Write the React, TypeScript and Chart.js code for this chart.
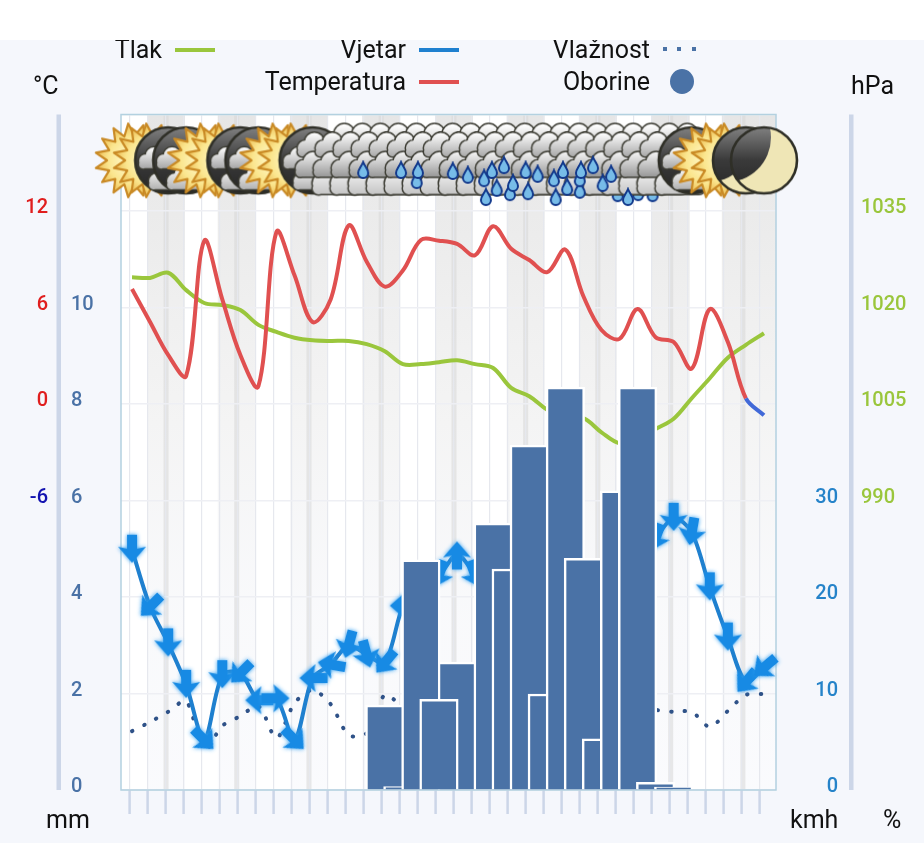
import React, { useEffect, useRef } from 'react';
import { Chart, registerables } from 'chart.js';

Chart.register(...registerables);

// forecast steps, in hours from the first point
const hours = [0, 3, 6, 9, 12, 15, 18, 21, 24, 27, 30, 33, 36, 39, 42, 45, 48, 51, 54, 57, 60, 63, 66, 69, 72, 75, 78, 81, 84, 87, 90, 93, 96, 99, 102, 105];

const temperature = [7.15, 5.1, 3.05, 1.75, 10.15, 6.5, 3.05, 1.1, 10.7, 8, 5.1, 6.5, 11.1, 8.85, 7.3, 8.3, 10.2, 10.15, 9.95, 9.25, 11.05, 9.65, 8.95, 8.2, 9.6, 6.7, 4.6, 4.05, 5.9, 4.15, 3.85, 2.2, 5.9, 3.85, 0.35, -0.7];
const pressure = [1024.7, 1024.6, 1025.4, 1022.7, 1020.7, 1020.4, 1019.6, 1017.3, 1016.2, 1015.3, 1014.9, 1014.8, 1014.8, 1014.3, 1013.2, 1011.2, 1011.2, 1011.5, 1011.8, 1011.2, 1010.6, 1007.5, 1006.2, 1004.1, 1002.8, 1002.8, 1000.6, 998.9, 999.4, 1001.1, 1002.7, 1005.9, 1009, 1012.2, 1014.2, 1016];
const wind = [24.9, 19, 15.2, 10.9, 5.2, 11.9, 12.1, 9.3, 9.5, 5.2, 11.6, 13, 15, 14, 13.2, 19.1, 22, 22.3, 24.4, 22.3, 20, 19, 18, 19, 20, 21, 22, 23, 24, 26.1, 28.2, 26.7, 21, 15.8, 11.2, 12.7];
const windDirection = [0, 45, 0, 0, -45, 0, 45, 90, -90, -45, 90, 100, 15, -15, 40, 90, 90, 20, 180, -20, 0, 0, 0, 0, 0, 0, 0, 0, 20, 20, 0, 10, 0, 0, 40, 50];
const humidity = [72.2, 74.1, 76.2, 78.4, 68.3, 73.3, 75.3, 77.4, 70.8, 78, 80.7, 77.8, 71.4, 71.8, 79.7, 77.6, 79, 79, 78, 78, 77, 77, 76, 76, 77, 77, 77, 77, 77, 76.6, 76.2, 76.2, 73.1, 76.4, 79.7, 79.9];
const precipitation = [0, 0, 0, 0, 0, 0, 0, 0, 0, 0, 0, 0, 0, 0, 1.76, 0.07, 4.77, 1.88, 0, 0, 5.53, 4.58, 7.15, 1.99, 8.35, 4.8, 1.06, 6.2, 8.35, 0.16, 0.06, 0, 0, 0, 0, 0];
// the one column that sits behind its neighbour
const precipitationBackHours = [54];
const precipitationBack = [2.65];

const weather = ['sun', 'sun', 'mooncloud', 'mooncloud', 'sun', 'sun', 'mooncloud', 'mooncloud', 'sun', 'sun', 'mooncloud', 'cloud', 'cloud', 'cloud', 'cloud', 'cloud', 'cloud', 'cloud', 'cloud', 'cloud', 'cloud', 'cloud', 'cloud', 'cloud', 'cloud', 'cloud', 'cloud', 'cloud', 'cloud', 'cloud', 'cloud', 'mooncloud', 'sun', 'sun', 'moon', 'moon'];
const weatherLevel = 13.05;

const dropHours = [38.4, 44.7, 47.3, 47.5, 53.3, 55.8, 58.5, 59.8, 61.8, 60.6, 58.8, 62.8, 63.3, 65.4, 67.4, 65.8, 70.1, 71.6, 70.4, 72.3, 74.4, 74.4, 74.6, 76.6, 78.2, 79.6, 82.4];
const dropLevels = [12.85, 12.85, 12.64, 12.85, 12.83, 12.75, 12.68, 12.85, 12.95, 12.48, 12.29, 12.39, 12.58, 12.85, 12.77, 12.41, 12.68, 12.85, 12.29, 12.5, 12.44, 12.68, 12.85, 12.95, 12.58, 12.77, 12.29];
const hiddenDropHours = [80.7, 84.1, 86.5];
const hiddenDropLevels = [12.37, 12.39, 12.37];

// night bands, centre hour of each
const bandHours = [5.65, 17.4, 29.4, 41.4, 53.5, 65.4, 77.4, 89.5, 101.5];
const lastBandStart = 98;

const tempTicks = [12, 6, 0, -6];
const mmTicks = [0, 2, 4, 6, 8, 10];
const windTicks = [0, 10, 20, 30];
const pressureTicks = [990, 1005, 1020, 1035];
const humidityTicks = [80];

const RED = '#e05050';
const GREEN = '#9ac63c';
const WIND_BLUE = '#1f80cf';
const BAR_BLUE = '#4a72a6';
const AXIS_LINE = '#ccd6e8';
const tickFont = { family: 'Roboto', size: 20, weight: '500' as const };

const makeCanvas = (w: number, h: number) => {
    const c = document.createElement('canvas');
    c.width = w;
    c.height = h;
    return c;
};

const drawCloud = (ctx: CanvasRenderingContext2D, cx: number, cy: number, w: number, top: string, bottom: string) => {
    const puffs = [
        [-0.3, 0.02, 0.2],
        [-0.06, -0.13, 0.25],
        [0.24, -0.02, 0.2],
        [0.36, 0.1, 0.13],
        [-0.38, 0.12, 0.12],
    ];
    const shape = () => {
        ctx.beginPath();
        puffs.forEach(([x, y, r]) => {
            ctx.moveTo(cx + x * w + r * w, cy + y * w);
            ctx.arc(cx + x * w, cy + y * w, r * w, 0, Math.PI * 2);
        });
        ctx.rect(cx - 0.38 * w, cy + 0.02 * w, 0.76 * w, 0.21 * w);
    };
    ctx.strokeStyle = '#3d3d34';
    ctx.lineWidth = 3;
    shape();
    ctx.stroke();
    const g = ctx.createLinearGradient(0, cy - 0.35 * w, 0, cy + 0.25 * w);
    g.addColorStop(0, top);
    g.addColorStop(1, bottom);
    ctx.fillStyle = g;
    shape();
    ctx.fill();
};

const drawClouds = (ctx: CanvasRenderingContext2D, c: number) => {
    drawCloud(ctx, c + 16, c - 21, 40, '#ffffff', '#b8b8b8');
    drawCloud(ctx, c - 14, c - 13, 38, '#fbfbfb', '#a8a8a8');
    drawCloud(ctx, c + 15, c, 44, '#f6f6f6', '#9c9c9c');
    drawCloud(ctx, c - 15, c + 7, 40, '#f0f0f0', '#969696');
    drawCloud(ctx, c + 7, c + 22, 50, '#ffffff', '#c4c4c4');
};

const makeSun = () => {
    const s = makeCanvas(100, 100);
    const ctx = s.getContext('2d')!;
    ctx.beginPath();
    const spikes = 15;
    for (let i = 0; i < spikes * 2; i++) {
        const r = i % 2 === 0 ? 37 : 25;
        const a = (i * Math.PI) / spikes;
        ctx.lineTo(50 + r * Math.cos(a), 50 + r * Math.sin(a));
    }
    ctx.closePath();
    const g = ctx.createRadialGradient(50, 50, 6, 50, 50, 36);
    g.addColorStop(0, '#fff8c8');
    g.addColorStop(0.6, '#fbe68e');
    g.addColorStop(1, '#edbe55');
    ctx.fillStyle = g;
    ctx.fill();
    ctx.strokeStyle = '#c98a25';
    ctx.lineWidth = 2.2;
    ctx.lineJoin = 'round';
    ctx.stroke();
    return s;
};

const makeMoon = (clouded: boolean) => {
    const s = makeCanvas(100, 100);
    const ctx = s.getContext('2d')!;
    const r = 33;
    ctx.save();
    ctx.beginPath();
    ctx.arc(50, 50, r, 0, Math.PI * 2);
    ctx.clip();
    const dark = ctx.createLinearGradient(0, 17, 0, 83);
    dark.addColorStop(0, '#808080');
    dark.addColorStop(0.5, '#3a3a3a');
    dark.addColorStop(1, '#262626');
    if (clouded) {
        ctx.fillStyle = dark;
        ctx.fillRect(0, 0, 100, 100);
    } else {
        ctx.fillStyle = '#efe6b6';
        ctx.fillRect(0, 0, 100, 100);
        ctx.fillStyle = dark;
        ctx.beginPath();
        ctx.arc(12, 27, 45, 0, Math.PI * 2);
        ctx.fill();
    }
    ctx.restore();
    ctx.beginPath();
    ctx.arc(50, 50, r, 0, Math.PI * 2);
    ctx.strokeStyle = '#2f2f27';
    ctx.lineWidth = 2.6;
    ctx.stroke();
    if (clouded) {
        drawCloud(ctx, 38, 50, 34, '#fafafa', '#a5a5a5');
        drawCloud(ctx, 50, 70, 38, '#ffffff', '#b0b0b0');
    }
    return s;
};

const makeCloud = () => {
    const s = makeCanvas(100, 100);
    drawClouds(s.getContext('2d')!, 50);
    return s;
};

const makeDrop = () => {
    const s = makeCanvas(16, 20);
    const ctx = s.getContext('2d')!;
    ctx.beginPath();
    ctx.moveTo(8, 2);
    ctx.bezierCurveTo(10, 7, 13, 9, 13, 13);
    ctx.arc(8, 13, 5, 0, Math.PI);
    ctx.bezierCurveTo(3, 9, 6, 7, 8, 2);
    ctx.closePath();
    ctx.fillStyle = '#77bce8';
    ctx.fill();
    ctx.strokeStyle = '#12398c';
    ctx.lineWidth = 2;
    ctx.stroke();
    return s;
};

const makeArrow = () => {
    const s = makeCanvas(44, 44);
    const ctx = s.getContext('2d')!;
    ctx.translate(22, 22);
    ctx.shadowColor = '#2a9cf0';
    ctx.shadowBlur = 4;
    ctx.fillStyle = '#178ae4';
    ctx.beginPath();
    ctx.moveTo(-5, -15);
    ctx.lineTo(5, -15);
    ctx.lineTo(5, -1);
    ctx.lineTo(14, -3);
    ctx.lineTo(0, 13);
    ctx.lineTo(-14, -3);
    ctx.lineTo(-5, -1);
    ctx.closePath();
    ctx.fill();
    return s;
};

const only = (list: number[]) => (value: string | number) => (list.includes(Number(value)) ? String(value) : '');

// axis boxes are fixed, and tall labels must not push the plot in
const axisWidth = (width: number) => (axis: any) => {
    axis.width = width;
    axis.paddingTop = 0;
    axis.paddingBottom = 0;
};

const backdrop = {
    id: 'backdrop',
    beforeDraw(chart: any) {
        const { ctx, chartArea: a, scales } = chart;
        const x = scales.x;
        ctx.save();
        ctx.fillStyle = '#ffffff';
        ctx.fillRect(a.left, a.top, a.width, a.height);
        const band = ctx.createLinearGradient(0, a.top, 0, a.bottom);
        band.addColorStop(0, 'rgba(205,205,205,0.5)');
        band.addColorStop(0.45, 'rgba(215,215,215,0.28)');
        band.addColorStop(0.75, 'rgba(225,228,238,0.2)');
        band.addColorStop(1, 'rgba(235,238,248,0.25)');
        bandHours.forEach((h, i) => {
            const half = 19;
            const c = x.getPixelForValue(h);
            ctx.fillStyle = band;
            if (i === bandHours.length - 1) {
                const start = x.getPixelForValue(lastBandStart);
                ctx.fillRect(start, a.top, a.right - start, a.height);
            } else {
                ctx.fillRect(c - half, a.top, half * 2, a.height);
            }
            ctx.fillStyle = 'rgba(215,215,215,0.55)';
            ctx.fillRect(c - 2.5, a.top, 5, a.height);
        });
        // the two pale rails beside the outer axes
        ctx.fillStyle = AXIS_LINE;
        ctx.fillRect(a.left - 64.5, a.top, 4.5, a.height);
        ctx.fillRect(a.right + 73, a.top, 4.5, a.height);
        ctx.restore();
    },
    beforeDatasetsDraw(chart: any) {
        const { ctx, chartArea: a } = chart;
        ctx.save();
        ctx.strokeStyle = '#b3d1e0';
        ctx.lineWidth = 1.5;
        ctx.strokeRect(a.left, a.top, a.width, a.height);
        ctx.restore();
    },
};

const labelStyle: React.CSSProperties = {
    position: 'absolute',
    fontFamily: 'Roboto',
    fontSize: 25,
    lineHeight: '28px',
    color: '#111111',
    whiteSpace: 'nowrap',
};

const Legend: React.FC<{ text: string; right: number; y: number }> = ({ text, right, y }) => (
    <div style={{ ...labelStyle, right: 924 - right, top: y - 14 }}>{text}</div>
);

const Unit: React.FC<{ text: string; left: number; y: number }> = ({ text, left, y }) => (
    <div style={{ ...labelStyle, left, top: y - 14 }}>{text}</div>
);

const Swatch: React.FC<{ left: number; y: number; color: string }> = ({ left, y, color }) => (
    <div style={{ position: 'absolute', left, top: y - 2, width: 40, height: 4, background: color }} />
);

const App: React.FC = () => {
    const chartRef = useRef<HTMLCanvasElement>(null);

    useEffect(() => {
        if (!chartRef.current) return;

        const sun = makeSun();
        const moon = makeMoon(false);
        const moonCloud = makeMoon(true);
        const cloud = makeCloud();
        const drop = makeDrop();
        const arrow = makeArrow();
        const icons: Record<string, HTMLCanvasElement> = { sun, moon, mooncloud: moonCloud, cloud };
        const series = (values: number[]) => values.map((y, i) => ({ x: hours[i], y }));
        const pairs = (xs: number[], ys: number[]) => xs.map((x, i) => ({ x, y: ys[i] }));

        const chart = new Chart(chartRef.current, {
            type: 'bar',
            plugins: [backdrop],
            data: {
                datasets: [
                    {
                        type: 'line',
                        label: 'Kiša',
                        data: pairs(dropHours, dropLevels),
                        yAxisID: 'yMm',
                        showLine: false,
                        pointStyle: drop,
                        pointRadius: 8,
                        clip: false,
                        order: 0,
                    },
                    {
                        type: 'line',
                        label: 'Vrijeme',
                        data: hours.map((x) => ({ x, y: weatherLevel })),
                        yAxisID: 'yMm',
                        showLine: false,
                        pointStyle: (ctx: any) => icons[weather[ctx.dataIndex]],
                        pointRadius: 10,
                        clip: false,
                        order: 1,
                    },
                    {
                        type: 'line',
                        label: 'Kiša iza',
                        data: pairs(hiddenDropHours, hiddenDropLevels),
                        yAxisID: 'yMm',
                        showLine: false,
                        pointStyle: drop,
                        pointRadius: 8,
                        clip: false,
                        order: 2,
                    },
                    {
                        label: 'Oborine',
                        data: series(precipitation).filter((p) => p.y > 0),
                        yAxisID: 'yMm',
                        backgroundColor: BAR_BLUE,
                        borderColor: '#ffffff',
                        borderWidth: 2.5,
                        borderSkipped: 'bottom',
                        barThickness: 38.5,
                        grouped: false,
                        order: 3,
                    },
                    {
                        label: 'Oborine iza',
                        data: pairs(precipitationBackHours, precipitationBack),
                        yAxisID: 'yMm',
                        backgroundColor: BAR_BLUE,
                        borderColor: '#ffffff',
                        borderWidth: 2.5,
                        borderSkipped: 'bottom',
                        barThickness: 38.5,
                        grouped: false,
                        order: 4,
                    },
                    {
                        type: 'line',
                        label: 'Temperatura',
                        data: series(temperature),
                        yAxisID: 'yTemp',
                        borderColor: RED,
                        borderWidth: 4,
                        pointRadius: 0,
                        tension: 0.35,
                        segment: {
                            borderColor: (ctx: any) => (ctx.p1.parsed.y < 0 ? '#4169d8' : RED),
                        },
                        order: 5,
                    },
                    {
                        type: 'line',
                        label: 'Tlak',
                        data: series(pressure),
                        yAxisID: 'yPressure',
                        borderColor: GREEN,
                        borderWidth: 4,
                        pointRadius: 0,
                        tension: 0.35,
                        order: 6,
                    },
                    {
                        type: 'line',
                        label: 'Vjetar',
                        data: series(wind),
                        yAxisID: 'yWind',
                        borderColor: WIND_BLUE,
                        borderWidth: 4,
                        pointStyle: arrow,
                        pointRadius: 10,
                        pointRotation: (ctx: any) => windDirection[ctx.dataIndex],
                        tension: 0.3,
                        clip: false,
                        order: 7,
                    },
                    {
                        type: 'line',
                        label: 'Vlažnost',
                        data: series(humidity),
                        yAxisID: 'yHumidity',
                        borderColor: '#2f5288',
                        borderWidth: 4,
                        borderDash: [0.5, 13],
                        borderCapStyle: 'round',
                        pointRadius: 0,
                        tension: 0.3,
                        order: 8,
                    },
                ],
            } as any,
            options: {
                responsive: false,
                animation: false,
                layout: { padding: { top: 114.5 } },
                plugins: {
                    legend: { display: false },
                    tooltip: { enabled: false },
                },
                scales: {
                    x: {
                        type: 'linear',
                        offset: false,
                        min: -1.83,
                        max: 107,
                        afterBuildTicks: (axis: any) => {
                            axis.ticks = hours.map((h) => ({ value: h * 0.9967 - 0.33 }));
                        },
                        afterFit: (axis: any) => {
                            axis.height = 53;
                        },
                        ticks: { display: false },
                        border: { display: false },
                        grid: {
                            offset: false,
                            color: '#e6e8ee',
                            lineWidth: 1.2,
                            tickColor: AXIS_LINE,
                            tickWidth: 2.5,
                            tickLength: 24,
                        },
                    },
                    yTemp: {
                        position: 'left',
                        weight: 2,
                        min: -24,
                        max: 18,
                        afterFit: axisWidth(71),
                        border: { display: false },
                        grid: { display: false, drawTicks: false },
                        ticks: {
                            stepSize: 6,
                            autoSkip: false,
                            callback: only(tempTicks),
                            color: (ctx: any) => (ctx.tick.value < 0 ? '#1212b0' : '#e01e1e'),
                            font: tickFont,
                            padding: 23,
                            labelOffset: -3,
                        },
                    },
                    yMm: {
                        position: 'left',
                        weight: 1,
                        min: 0,
                        max: 14,
                        afterFit: axisWidth(50),
                        border: { display: false },
                        grid: { color: '#eeeff4', lineWidth: 1.5, drawTicks: false },
                        ticks: {
                            stepSize: 2,
                            autoSkip: false,
                            callback: only(mmTicks),
                            color: BAR_BLUE,
                            font: tickFont,
                            crossAlign: 'far',
                            labelOffset: -3,
                        },
                    },
                    yHumidity: {
                        position: 'right',
                        weight: 0,
                        min: 60,
                        max: 200,
                        afterFit: axisWidth(0),
                        border: { display: false },
                        grid: { display: false, drawTicks: false },
                        ticks: {
                            stepSize: 20,
                            autoSkip: false,
                            callback: only(humidityTicks),
                            color: BAR_BLUE,
                            font: tickFont,
                            padding: 85,
                            labelOffset: -3,
                        },
                    },
                    yWind: {
                        position: 'right',
                        weight: 1,
                        min: 0,
                        max: 70,
                        afterFit: axisWidth(62),
                        border: { display: false },
                        grid: { display: false, drawTicks: false },
                        ticks: {
                            stepSize: 10,
                            autoSkip: false,
                            callback: only(windTicks),
                            color: '#2583c9',
                            font: tickFont,
                            crossAlign: 'far',
                            labelOffset: -3,
                        },
                    },
                    yPressure: {
                        position: 'right',
                        weight: 2,
                        min: 945,
                        max: 1050,
                        afterFit: axisWidth(86),
                        border: { display: false },
                        grid: { display: false, drawTicks: false },
                        ticks: {
                            stepSize: 15,
                            autoSkip: false,
                            callback: only(pressureTicks),
                            color: GREEN,
                            font: tickFont,
                            padding: 23,
                            labelOffset: -3,
                        },
                    },
                },
            } as any,
        });

        return () => {
            chart.destroy();
        };
    }, []);

    return (
        <div style={{ position: 'absolute', left: 0, top: 0, width: 924, height: 843, background: '#f5f7fc', overflow: 'hidden' }}>
            <canvas ref={chartRef} width={924} height={843} style={{ position: 'absolute', left: 0, top: 0, display: 'block' }} />
            <Legend text="Tlak" right={162} y={50} />
            <Swatch left={175} y={50} color={GREEN} />
            <Legend text="Vjetar" right={406} y={50} />
            <Swatch left={419} y={50} color={WIND_BLUE} />
            <Legend text="Vlažnost" right={650} y={50} />
            {[663, 677, 692].map((left) => (
                <div key={left} style={{ position: 'absolute', left, top: 47, width: 4, height: 4, background: BAR_BLUE }} />
            ))}
            <Legend text="Temperatura" right={406} y={82} />
            <Swatch left={419} y={82} color={RED} />
            <Legend text="Oborine" right={650} y={82} />
            <div style={{ position: 'absolute', left: 670, top: 69, width: 24, height: 25, borderRadius: '50%', background: BAR_BLUE }} />
            <Unit text="°C" left={33} y={86} />
            <Unit text="hPa" left={851} y={86} />
            <Unit text="mm" left={46} y={820} />
            <Unit text="kmh" left={790} y={820} />
            <Unit text="%" left={883} y={820} />
            <div style={{ position: 'absolute', left: 0, top: 0, width: 924, height: 40, background: '#ffffff' }} />
        </div>
    );
};

export default App;
